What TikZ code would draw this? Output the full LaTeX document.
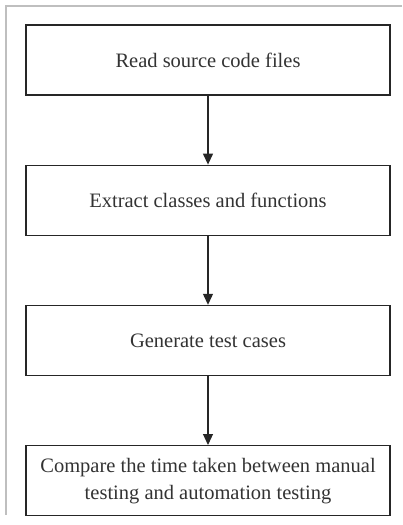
\documentclass[tikz,border=0pt]{standalone}
\usepackage{fontspec}
\setmainfont{Liberation Serif}
\usetikzlibrary{arrows.meta,positioning}
\tikzset{
  stepbox/.style={draw=black!85, line width=1.2pt, minimum width=364pt, minimum height=70pt, align=center, font=\fontsize{20.5}{27}\selectfont, text=black!80},
  flow/.style={-{Triangle[length=11pt,width=10pt]}, line width=1.2pt, black!85},
  frame/.style={draw=black!25, line width=1.5pt}
}

\begin{document}
\begin{tikzpicture}[x=1pt,y=-1pt]
  \useasboundingbox (0,0) rectangle (402,525);
  \draw[frame] (402,6)--(6,6)--(6,515);
  \node[stepbox] (read) at (208,60) {Read source code files};
  \node[stepbox, below=69pt of read] (extract) {Extract classes and functions};
  \node[stepbox, below=69pt of extract] (generate) {Generate test cases};
  \node[stepbox, below=69pt of generate] (compare) {Compare the time taken between manual\\testing and automation testing};
  \draw[flow] (read)--(extract);
  \draw[flow] (extract)--(generate);
  \draw[flow] (generate)--(compare);
\end{tikzpicture}
\end{document}
